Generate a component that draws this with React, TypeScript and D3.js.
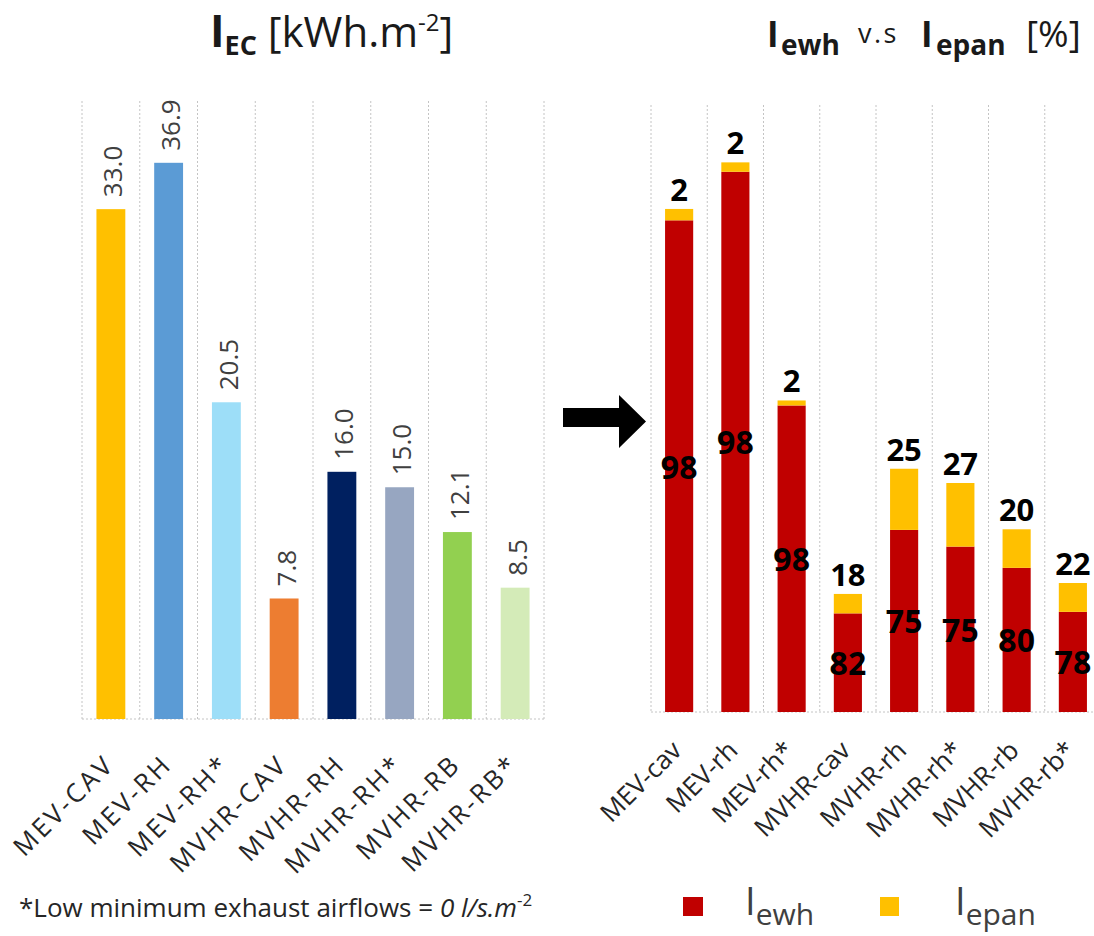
import React from "react";
import * as d3 from "d3";

// ---- Data ----
const leftCategories = ["MEV-CAV", "MEV-RH", "MEV-RH*", "MVHR-CAV", "MVHR-RH", "MVHR-RH*", "MVHR-RB", "MVHR-RB*"];
const leftValues = [33.0, 36.0, 20.5, 7.8, 16.0, 15.0, 12.1, 8.5];
const leftLabels = ["33.0", "36.9", "20.5", "7.8", "16.0", "15.0", "12.1", "8.5"];
const leftColors = ["#FFC000", "#5B9BD5", "#9DDEF8", "#ED7D31", "#002060", "#97A6C1", "#92D050", "#D4EBB8"];

const rightCategories = ["MEV-cav", "MEV-rh", "MEV-rh*", "MVHR-cav", "MVHR-rh", "MVHR-rh*", "MVHR-rb", "MVHR-rb*"];
const ewhValues = [32.4, 35.6, 20.2, 6.5, 12.0, 10.9, 9.5, 6.6];
const epanValues = [0.75, 0.62, 0.33, 1.28, 4.03, 4.19, 2.54, 1.9];
const ewhPct = [98, 98, 98, 82, 75, 75, 80, 78];
const epanPct = [2, 2, 2, 18, 25, 27, 20, 22];
const seriesColors = { ewh: "#C00000", epan: "#FFC000" };

const FONT = "'Open Sans', 'DejaVu Sans', sans-serif";

export default function App() {
  // Left chart scales
  const xL = d3.scaleBand<string>().domain(leftCategories).range([82, 544]).paddingInner(0.5).paddingOuter(0.25);
  const yL = d3.scaleLinear().domain([0, 40]).range([719, 101]);
  const gridL = d3.range(leftCategories.length + 1).map((i) => 82 + (i * (544 - 82)) / leftCategories.length);

  // Right chart scales
  const xR = d3.scaleBand<string>().domain(rightCategories).range([651, 1101]).paddingInner(0.5).paddingOuter(0.25);
  const yR = d3.scaleLinear().domain([0, 40]).range([712, 105]);
  const gridR = d3.range(rightCategories.length + 1).map((i) => 651 + (i * (1101 - 651)) / rightCategories.length);

  const stackData = rightCategories.map((c, i) => ({ cat: c, ewh: ewhValues[i], epan: epanValues[i] }));
  const stacked = d3.stack<any>().keys(["ewh", "epan"])(stackData);

  const gridStyle = { stroke: "#C4C4C4", strokeWidth: 1, strokeDasharray: "2,2" };

  return (
    <svg
      width={1094}
      height={936}
      style={{ position: "absolute", left: 0, top: 0, background: "#fff", fontFamily: FONT }}
    >
      <rect x={0} y={0} width={1094} height={936} fill="#fff" />

      {/* Left title */}
      <text x={210} y={47} fill="#1a1a1a" fontFamily={FONT}>
        <tspan fontSize={44} fontWeight={700}>I</tspan>
        <tspan fontSize={27} fontWeight={700} dy={8}>EC</tspan>
        <tspan fontSize={42} dy={-8}> [kWh.m</tspan>
        <tspan fontSize={24} dy={-16}>-2</tspan>
        <tspan fontSize={42} dy={16}>]</tspan>
      </text>

      {/* Right title */}
      <g fill="#1a1a1a" fontFamily={FONT}>
        <text x={767} y={47} fontSize={35} fontWeight={700}>I</text>
        <text x={781} y={55} fontSize={28} fontWeight={700}>ewh</text>
        <text x={858} y={43} fontSize={27} letterSpacing={2.5}>v.s</text>
        <text x={921} y={47} fontSize={35} fontWeight={700}>I</text>
        <text x={936} y={55} fontSize={28} fontWeight={700}>epan</text>
        <text x={1026} y={47} fontSize={37}>[%]</text>
      </g>

      {/* Left chart grid */}
      {gridL.map((x, i) => (
        <line key={"gl" + i} x1={x} x2={x} y1={yL(40)} y2={yL(0)} {...gridStyle} />
      ))}
      <line x1={82} x2={544} y1={yL(0)} y2={yL(0)} {...gridStyle} />

      {/* Left bars */}
      {leftCategories.map((c, i) => (
        <rect
          key={"lb" + i}
          x={xL(c)}
          y={yL(leftValues[i])}
          width={xL.bandwidth()}
          height={yL(0) - yL(leftValues[i])}
          fill={leftColors[i]}
        />
      ))}
      {leftCategories.map((c, i) => {
        const cx = (xL(c) as number) + xL.bandwidth() / 2 + 1.5;
        const y = yL(leftValues[i]) - 12;
        return (
          <text
            key={"ll" + i}
            transform={`translate(${cx},${y}) rotate(-90)`}
            fontSize={26}
            fill="#404040"
            dominantBaseline="central"
            textAnchor="start"
          >
            {leftLabels[i]}
          </text>
        );
      })}
      {leftCategories.map((c, i) => {
        const cx = (xL(c) as number) + xL.bandwidth() / 2 + 5;
        return (
          <text
            key={"lx" + i}
            transform={`translate(${cx},766) rotate(-45)`}
            fontSize={26}
            letterSpacing={2.8}
            fill="#262626"
            textAnchor="end"
          >
            {c}
          </text>
        );
      })}

      {/* Arrow */}
      <polygon points="563,408 619,408 619,395 646,421.5 619,448 619,427 563,427" fill="#000" />

      {/* Right chart grid */}
      {gridR.map((x, i) => (
        <line key={"gr" + i} x1={x} x2={x} y1={yR(40)} y2={yR(0)} {...gridStyle} />
      ))}
      <line x1={651} x2={1101} y1={yR(0)} y2={yR(0)} {...gridStyle} />

      {/* Right stacked bars */}
      {stacked.map((s) => (
        <g key={s.key} fill={(seriesColors as any)[s.key]}>
          {s.map((d: any, i: number) => (
            <rect
              key={i}
              x={xR(d.data.cat)}
              y={yR(d[1])}
              width={xR.bandwidth()}
              height={yR(d[0]) - yR(d[1])}
            />
          ))}
        </g>
      ))}
      {/* Right labels */}
      {rightCategories.map((c, i) => {
        const cx = (xR(c) as number) + xR.bandwidth() / 2;
        const total = ewhValues[i] + epanValues[i];
        const midRed = (yR(0) + yR(ewhValues[i])) / 2;
        return (
          <g key={"rl" + i} fontWeight={700} fill="#000" textAnchor="middle">
            <text x={cx} y={yR(total) - 8} fontSize={31}>{epanPct[i]}</text>
            <text x={cx} y={midRed} fontSize={32} dominantBaseline="central">{ewhPct[i]}</text>
          </g>
        );
      })}
      {rightCategories.map((c, i) => {
        const cx = (xR(c) as number) + xR.bandwidth() / 2 + 4;
        return (
          <text
            key={"rx" + i}
            transform={`translate(${cx},752) rotate(-45)`}
            fontSize={26}
            fill="#262626"
            textAnchor="end"
          >
            {c}
          </text>
        );
      })}

      {/* Footnote */}
      <text x={19} y={917} fontSize={26} fill="#262626">
        <tspan>*Low minimum exhaust airflows = </tspan>
        <tspan fontStyle="italic">0 l/s.m</tspan>
        <tspan fontSize={17} dy={-11}>-2</tspan>
      </text>

      {/* Legend */}
      <rect x={683} y={897} width={20} height={19} fill={seriesColors.ewh} />
      <text x={745} y={915} fill="#404040">
        <tspan fontSize={38}>I</tspan>
        <tspan fontSize={30} dy={10}>ewh</tspan>
      </text>
      <rect x={880} y={897} width={19} height={19} fill={seriesColors.epan} />
      <text x={955} y={915} fill="#404040">
        <tspan fontSize={38}>I</tspan>
        <tspan fontSize={30} dy={10}>epan</tspan>
      </text>
    </svg>
  );
}
